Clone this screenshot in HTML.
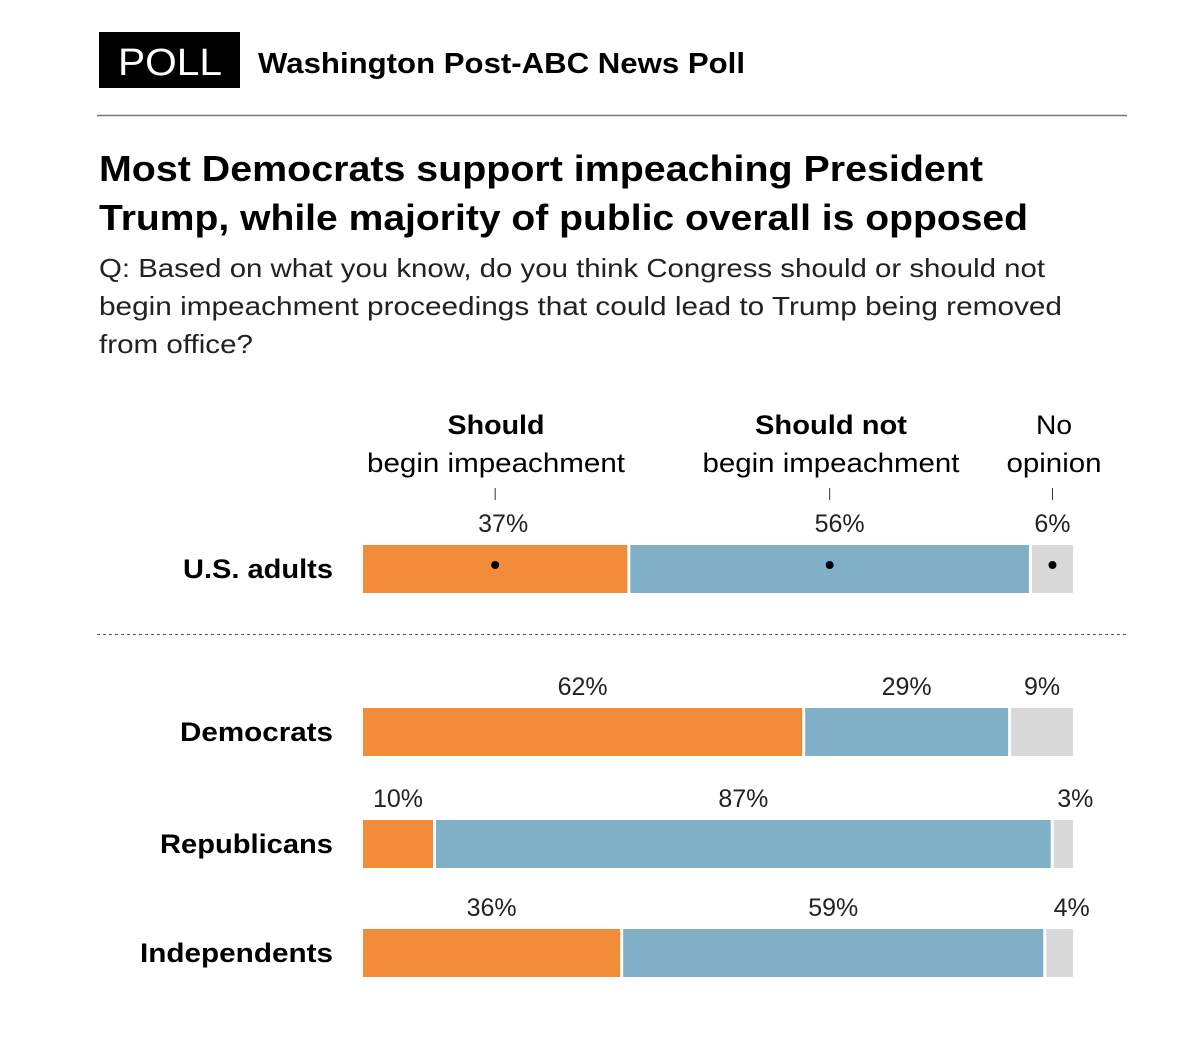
<!DOCTYPE html>
<html><head><meta charset="utf-8"><style>
html,body{margin:0;padding:0;background:#fff;}
svg{display:block;font-family:"Liberation Sans",sans-serif;}
</style></head><body>
<svg id="chart" width="1200" height="1058" viewBox="0 0 1200 1058">
  <rect x="99" y="32" width="141" height="56" fill="#000"/>
  <text x="118" y="75" fill="#fff" font-size="38" textLength="104" lengthAdjust="spacingAndGlyphs">POLL</text>
  <text x="258" y="73" font-size="29" font-weight="bold" textLength="487" lengthAdjust="spacingAndGlyphs">Washington Post-ABC News Poll</text>
  <line x1="97" y1="115.5" x2="1127" y2="115.5" stroke="#777" stroke-width="1.5"/>
  <text x="99" y="181" font-size="36" font-weight="bold" textLength="884" lengthAdjust="spacingAndGlyphs">Most Democrats support impeaching President</text>
  <text x="99" y="230" font-size="36" font-weight="bold" textLength="929" lengthAdjust="spacingAndGlyphs">Trump, while majority of public overall is opposed</text>
  <g font-size="26" fill="#222">
    <text x="99" y="277" textLength="946" lengthAdjust="spacingAndGlyphs">Q: Based on what you know, do you think Congress should or should not</text>
    <text x="99" y="315" textLength="963" lengthAdjust="spacingAndGlyphs">begin impeachment proceedings that could lead to Trump being removed</text>
    <text x="99" y="353" textLength="154" lengthAdjust="spacingAndGlyphs">from office?</text>
  </g>
  <g font-size="27" text-anchor="middle">
    <text x="496" y="434" font-weight="bold" textLength="97" lengthAdjust="spacingAndGlyphs">Should</text>
    <text x="496" y="472" textLength="258" lengthAdjust="spacingAndGlyphs">begin impeachment</text>
    <text x="831" y="434" font-weight="bold" textLength="152" lengthAdjust="spacingAndGlyphs">Should not</text>
    <text x="831" y="472" textLength="257" lengthAdjust="spacingAndGlyphs">begin impeachment</text>
    <text x="1054" y="434" textLength="36" lengthAdjust="spacingAndGlyphs">No</text>
    <text x="1054" y="472" textLength="95" lengthAdjust="spacingAndGlyphs">opinion</text>
  </g>
  <line x1="97" y1="634.5" x2="1127" y2="634.5" stroke="#555" stroke-width="1" stroke-dasharray="3,3"/>
  <g id="bars"></g>
</svg>
<script>
const groups = ["U.S. adults", "Democrats", "Republicans", "Independents"];
const shouldVals = [37, 62, 10, 36];
const shouldNotVals = [56, 29, 87, 59];
const noOpinionVals = [6, 9, 3, 4];
const labelWidths = [150, 153, 173, 193];
const rowTops = [545, 708, 820, 929];
const colors = ["#f28c38", "#7fb0c8", "#d9d9d9"];

const NS = "http://www.w3.org/2000/svg";
const g = document.getElementById("bars");
const x0 = 363, W = 710, H = 48;
function mk(tag, attrs){const e=document.createElementNS(NS,tag);for(const k in attrs)e.setAttribute(k,attrs[k]);g.appendChild(e);return e;}

groups.forEach((name, i) => {
  const vals = [shouldVals[i], shouldNotVals[i], noOpinionVals[i]];
  const total = vals.reduce((a,b)=>a+b,0);
  const y = rowTops[i];
  const lbl = mk("text",{x:333,y:y+33,"font-size":27,"font-weight":"bold","text-anchor":"end",textLength:labelWidths[i],lengthAdjust:"spacingAndGlyphs"});
  lbl.textContent = name;
  
  
  let cx = x0;
  vals.forEach((v, j) => {
    const w = v / total * W;
    const sx = j === 0 ? cx : cx + 2;
    const ex = j === 2 ? cx + w : cx + w - 1;
    const bw = ex - sx;
    const r = mk("rect",{x:sx,y:y,width:bw,height:H,fill:colors[j]});
    
    
    const center = sx + bw/2;
    let lx = center;
    if (v < 5) lx = center + 12;
    if (i === 0 && j === 0) lx = center + 8;
    if (i === 0 && j === 1) lx = center + 10;
    const t = mk("text",{x:lx,y:y-13,"font-size":25,"text-anchor":"middle",fill:"#222"});
    t.textContent = v + "%";
    
    
    if (i === 0) {
      const tick = mk("line",{x1:center,y1:488,x2:center,y2:500,stroke:"#333","stroke-width":1});
      
      
      const d = mk("circle",{cx:center,cy:y+20,r:4,fill:"#000"});
      
      
    }
    cx += w;
  });
});
</script>
</body></html>
